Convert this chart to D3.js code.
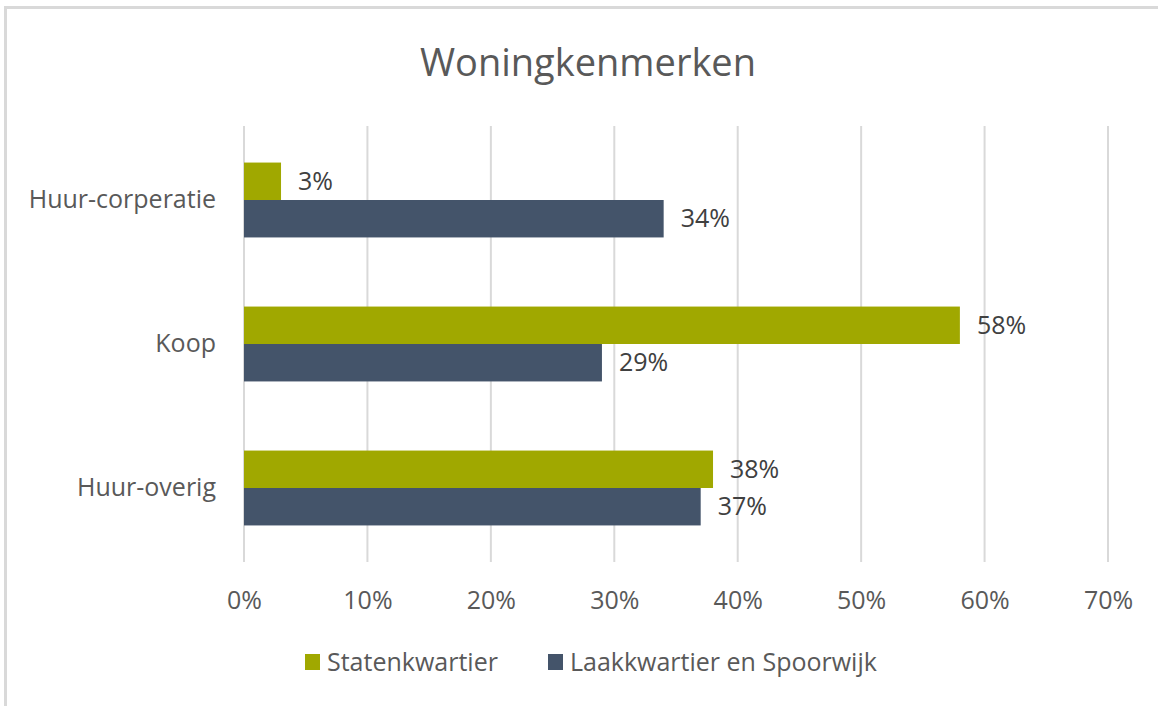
<!DOCTYPE html>
<html><head><meta charset="utf-8">
<script src="https://cdn.jsdelivr.net/npm/d3@7"></script>
<style>body{margin:0;background:#fff;} text{font-family:"Open Sans","Noto Sans",sans-serif;}</style>
</head><body>
<svg id="c" width="1158" height="706"></svg>
<script>
const title = "Woningkenmerken";
const categories = ["Huur-corperatie", "Koop", "Huur-overig"];
const seriesNames = ["Statenkwartier", "Laakkwartier en Spoorwijk"];
const statenkwartier = [3, 58, 38];
const laakkwartier = [34, 29, 37];
const xTicks = [0, 10, 20, 30, 40, 50, 60, 70];
const colors = ["#a0a800", "#44546a"];

const svg = d3.select("#c");
const W = 1158, H = 706;
const FF = '"Open Sans","Noto Sans",sans-serif';

// chart frame (only top and left edges visible in reference)
svg.append("line").attr("x1", 4).attr("x2", W).attr("y1", 7.5).attr("y2", 7.5)
  .attr("stroke", "#d9d9d9").attr("stroke-width", 3);
svg.append("line").attr("x1", 5.5).attr("x2", 5.5).attr("y1", 6).attr("y2", H)
  .attr("stroke", "#d9d9d9").attr("stroke-width", 3);

svg.append("text").attr("x", 588).attr("y", 76).attr("text-anchor", "middle")
  .attr("font-size", 38).attr("fill", "#595959").text(title);

const x = d3.scaleLinear().domain([0, 70]).range([244, 1108]);
const y = d3.scaleBand().domain(categories).range([128, 560]).paddingInner(0.48).paddingOuter(0.24);
const ySub = d3.scaleBand().domain([0, 1]).range([0, y.bandwidth()]);

// gridlines
svg.append("g").selectAll("line").data(xTicks).join("line")
  .attr("x1", d => x(d)).attr("x2", d => x(d)).attr("y1", 126).attr("y2", 562)
  .attr("stroke", "#d9d9d9").attr("stroke-width", 2);

// x axis labels
const xAxis = d3.axisBottom(x).tickValues(xTicks).tickFormat(d => d + "%").tickSize(0).tickPadding(0);
const gx = svg.append("g").attr("transform", "translate(0,600)").call(xAxis);
gx.select(".domain").remove();
gx.selectAll("text").attr("font-size", 25).attr("fill", "#595959").attr("y", 0).attr("dy", "0.35em")
  .style("font-family", FF);

// y axis labels
const yAxis = d3.axisLeft(y).tickSize(0).tickPadding(0);
const gy = svg.append("g").attr("transform", "translate(216,0)").call(yAxis);
gy.select(".domain").remove();
gy.selectAll("text").attr("font-size", 25).attr("fill", "#595959")
  .style("font-family", FF);

const data = [statenkwartier, laakkwartier];
data.forEach((vals, s) => {
  const g = svg.append("g");
  g.selectAll("rect").data(vals).join("rect")
    .attr("x", x(0)).attr("y", (d, i) => y(categories[i]) + ySub(s))
    .attr("width", d => x(d) - x(0)).attr("height", ySub.bandwidth())
    .attr("fill", colors[s]);
  g.selectAll("text").data(vals).join("text")
    .attr("x", d => x(d) + 17).attr("y", (d, i) => y(categories[i]) + ySub(s) + ySub.bandwidth() / 2)
    .attr("dy", "0.35em").attr("font-size", 25).attr("fill", "#404040").text(d => d + "%");
});

// legend
const legX = [305, 548];
seriesNames.forEach((n, i) => {
  svg.append("rect").attr("x", legX[i]).attr("y", 654).attr("width", 15).attr("height", 16).attr("fill", colors[i]);
  svg.append("text").attr("x", legX[i] + 22).attr("y", 662).attr("dy", "0.35em")
    .attr("font-size", 25).attr("fill", "#595959").text(n);
});
</script>
</body></html>
